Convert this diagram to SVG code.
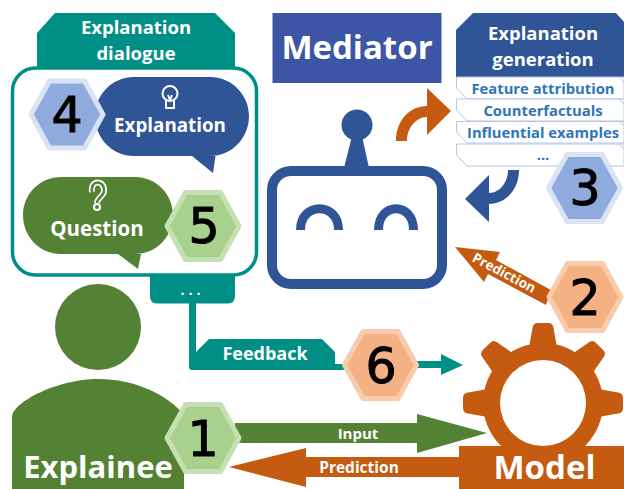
<svg xmlns="http://www.w3.org/2000/svg" width="624" height="489" viewBox="0 0 624 489">
<style>
text{font-family:"Open Sans","Liberation Sans",sans-serif;font-weight:700;fill:#fff;text-anchor:middle}
.num{font-family:"DejaVu Sans",sans-serif;font-weight:400;font-size:49px;fill:#000;stroke:#000;stroke-width:1}
.hex{stroke-width:5;stroke-linejoin:round}
.hb{fill:#8faadc;stroke:#dae3f3}.hg{fill:#a9d18e;stroke:#c5e0b4}.ho{fill:#f4b183;stroke:#f8cbad}
.teal{fill:#008f85}.blue{fill:#2f5597}.green{fill:#548235}.org{fill:#c55a11}
.item{fill:#fff;stroke:#b4c7e7;stroke-width:1}
.it{fill:#2e75b6;font-size:14.800px}
.icon{fill:none;stroke:#fff;stroke-width:2}
</style>
<defs>
<polygon id="h" points="-36,0 -17.500,-33.500 17.500,-33.500 36,0 17.500,33.500 -17.500,33.500"/>
<path id="tooth" d="M-15,-50 L-10.500,-75 Q-10,-80 -5,-80 L5,-80 Q10,-80 10.500,-75 L15,-50 Z"/>
</defs>

<g id="connectors">
<path class="org" d="M396,141 C396,120 410,106 427,106 V88 L451,111 L427,135 V117 C416,117 407,128 407,141 Z"/>
<path class="blue" d="M519,170 C519,190 505,204 489,204 V222 L465,199 L489,175 V193 C500,193 508,182 508,170 Z"/>
<path class="org" d="M455,247 L500,252 L496,260 L551,290 L546,305 L488,274 L484,282 Z"/>
<text transform="translate(502,277) rotate(28)" font-size="13.500">Prediction</text>
<path class="teal" d="M189,303 H196 V352 L209,339 H322 L335,352 V364 H350 V370 H192 Q189,370 189,367 Z"/>
<text x="265" y="360" font-size="18">Feedback</text>
<path class="teal" d="M415,361 H441 V354 L463,365 L441,375 V368 H415 Z"/>
<path class="green" d="M235,423 H417 V414 L487,433 L417,453 V443 H235 Z"/>
<text x="358" y="439" font-size="15">Input</text>
<path class="org" d="M460,457 H306 V448 L229,467 L306,487 V477 H460 Z"/>
<text x="359" y="473" font-size="15.500">Prediction</text>
</g>

<g id="dialogue">
<polygon class="teal" points="37,33 55,13 215,13 235,33 235,70 37,70"/>
<text x="136" y="34" font-size="18.500">Explanation</text>
<text x="136" y="60" font-size="18.500">dialogue</text>
<path class="teal" d="M150,272 H235 V296 Q235,303.500 228,303.500 H157 Q150,303.500 150,296 Z"/>
<text x="192.500" y="295" font-size="14" letter-spacing="4">...</text>
<rect x="12.500" y="68" width="244" height="207" rx="23" fill="#fff" stroke="#008f85" stroke-width="3.500"/>
</g>

<g id="explanation-bubble">
<path class="blue" d="M134,77 H210 C232,77 249,95 249,116 C249,138 232,156 210,156 H215.500 L213,173 L192,156 H134 C112,156 95,138 95,116 C95,95 112,77 134,77 Z"/>
<circle class="icon" cx="170" cy="93.500" r="7.500"/>
<path class="icon" d="M166,100 V108 H174 V100 M168,95 L170,100 L172,95"/>
<text x="170" y="132" font-size="18.800">Explanation</text>
</g>
<g id="question-bubble">
<path class="green" d="M61,177 H135 C156,177 173,194 173,215 C173,237 156,254 135,254 H141 L138,269 L118,254 H61 C40,254 23,237 23,215 C23,194 40,177 61,177 Z"/>
<path d="M92,192 C90,179 105,180 104,191 C104,196 97,198 97,203" fill="none" stroke="#fff" stroke-width="6" stroke-linecap="butt"/>
<path d="M92,192 C90,179 105,180 104,191 C104,196 97,198 97,203" fill="none" stroke="#548235" stroke-width="2.500"/>
<circle class="icon" cx="97" cy="207" r="3"/>
<text x="97" y="236" font-size="20.500">Question</text>
</g>
<g id="hex4"><use href="#h" x="67" y="114.500" class="hex hb"/><text class="num" x="67" y="132">4</text></g>
<g id="hex5"><use href="#h" x="203" y="226" class="hex hg"/><text class="num" x="204" y="243">5</text></g>

<g id="mediator">
<rect x="272.500" y="13" width="169" height="70" fill="#3c55a5"/>
<text x="357" y="59" font-size="33">Mediator</text>
</g>

<g id="generation">
<polygon class="blue" points="456,30 473,13 616,13 624,22 624,77 456,77"/>
<text x="543" y="40" font-size="18.500">Explanation</text>
<text x="543" y="66" font-size="18.500">generation</text>
<polygon class="item" points="456.500,77 456.500,88 467,99 624,99 624,77"/>
<text class="it" x="543" y="94">Feature attribution</text>
<polygon class="item" points="456.500,99 456.500,110 467,121 624,121 624,99"/>
<text class="it" x="543" y="116">Counterfactuals</text>
<polygon class="item" points="456.500,121.500 456.500,132 467,143 624,143 624,121.500"/>
<text class="it" x="543" y="138">Influential examples</text>
<polygon class="item" points="456.500,144 456.500,155 467,166 624,166 624,144"/>
<text class="it" x="543" y="160">...</text>
<path d="M619,77 L624,82 M619,99 L624,104 M619,121.500 L624,126 M619,144 L624,149" stroke="#b4c7e7" fill="none"/>
</g>
<g id="hex3"><use href="#h" x="584.500" y="188" class="hex hb"/><text class="num" x="585" y="205">3</text></g>

<g id="robot">
<circle class="blue" cx="357" cy="125" r="15.500"/>
<polygon class="blue" points="352,136 362,136 369,168 344,168"/>
<rect x="272" y="171" width="170" height="113" rx="19" fill="#fff" stroke="#2f5597" stroke-width="10"/>
<path d="M300.500,230 C300.500,201.500 338.500,201.500 338.500,230 M378.500,230 C378.500,201.500 413.500,201.500 413.500,230" fill="none" stroke="#2f5597" stroke-width="9"/>
</g>

<g id="explainee">
<circle class="green" cx="98" cy="327" r="43"/>
<path class="green" d="M12,489 V417 C12,402 58,379 98,379 C135,379 168,395 184,415 V489 Z"/>
<text x="98" y="478" font-size="31">Explainee</text>
</g>
<g id="hex1"><use href="#h" x="203" y="438" class="hex hg"/><text class="num" x="203" y="456">1</text></g>

<g id="model">
<g class="org">
<circle cx="543" cy="403" r="60"/>
<use href="#tooth" transform="translate(543,403)"/>
<use href="#tooth" transform="translate(543,403) rotate(45)"/>
<use href="#tooth" transform="translate(543,403) rotate(90)"/>
<use href="#tooth" transform="translate(543,403) rotate(-45)"/>
<use href="#tooth" transform="translate(543,403) rotate(-90)"/>
</g>
<circle cx="543" cy="403" r="43" fill="#fff"/>
<rect class="org" x="459" y="446" width="165" height="43"/>
<text x="544.500" y="479" font-size="33">Model</text>
</g>
<g id="hex2"><use href="#h" x="585" y="297" class="hex ho"/><text class="num" x="585" y="315">2</text></g>
<g id="hex6"><use href="#h" x="380.500" y="365" class="hex ho"/><text class="num" x="381" y="383">6</text></g>
</svg>
